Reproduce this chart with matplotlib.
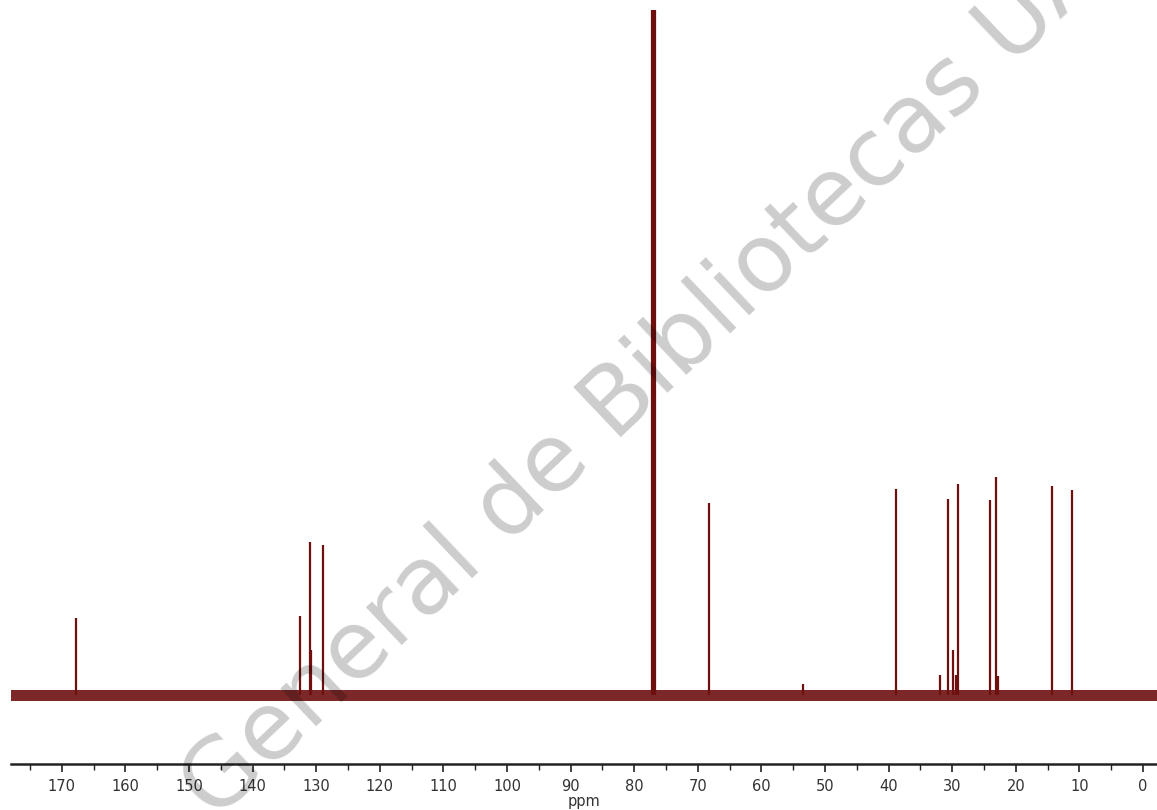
import matplotlib
matplotlib.use('Agg')
import matplotlib.pyplot as plt
import numpy as np

# 13C NMR peaks (ppm) and heights (arbitrary intensity)
peak_ppm = [167.8, 132.5, 131.0, 130.9, 128.9,
            77.22, 77.0, 76.78,
            68.2, 53.5, 38.9, 32.0, 30.6, 29.9, 29.4, 29.1,
            24.0, 23.1, 22.8, 14.3, 11.1]
peak_height = [77, 79, 153, 45, 150,
               900, 1000, 900,
               192, 11, 206, 20, 196, 45, 20, 211,
               195, 218, 19, 209, 205]

noise_level = 5
x_range = [178, -2.2]
major_ticks = list(range(170, -1, -10))
minor_ticks = list(range(175, -1, -10))
line_color = '#6e1010'

fig = plt.figure(figsize=(11.57, 8.10), dpi=100)
ax = fig.add_axes([11 / 1157, 46 / 810, 1146 / 1157, 754 / 810])

# baseline noise band
ax.fill_between(x_range, [-noise_level - 1] * 2, [noise_level] * 2,
                color=line_color, alpha=0.9, linewidth=0, zorder=2)
# peaks
ax.vlines(peak_ppm, 0, peak_height, color=line_color, linewidth=1.6, zorder=3)

ax.set_xlim(x_range)
ax.set_ylim(-69, 685)

for side in ['left', 'right', 'top']:
    ax.spines[side].set_visible(False)
ax.spines['bottom'].set_linewidth(1.8)
ax.spines['bottom'].set_color('#222222')
ax.set_yticks([])
ax.set_xticks(major_ticks)
ax.set_xticks(minor_ticks, minor=True)
ax.tick_params(axis='x', which='major', length=6, width=1.2, color='#222222',
               labelsize=10.5, labelcolor='#333333', pad=5)
ax.tick_params(axis='x', which='minor', length=4, width=1.0, color='#222222')
ax.set_xlabel('ppm', fontsize=10.5, color='#333333', labelpad=0)

# watermark
fig.text(215 / 1157, 1 - 822 / 810, 'General de Bibliotecas UABC',
         fontsize=68, color='black', alpha=0.2, rotation=43.5,
         rotation_mode='anchor', ha='left', va='baseline', zorder=10)

fig.savefig('out.png', dpi=100)
